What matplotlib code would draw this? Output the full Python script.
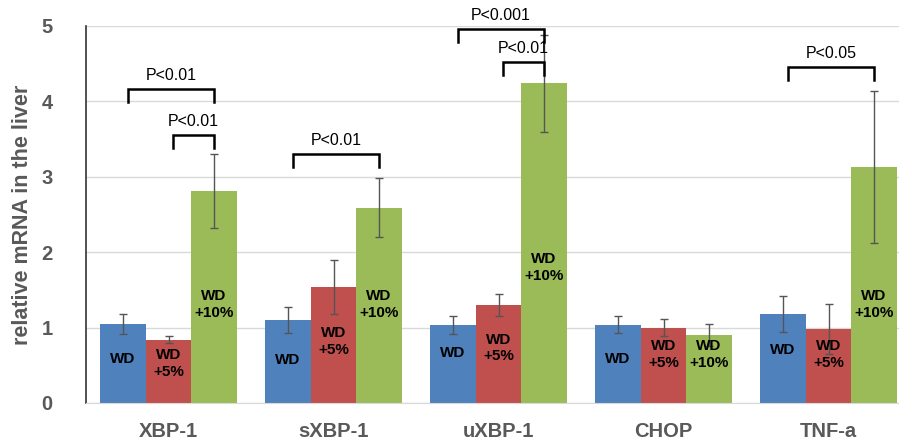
import numpy as np
import matplotlib
matplotlib.use("Agg")
import matplotlib.pyplot as plt

plt.rcParams["font.family"] = ["Liberation Sans", "DejaVu Sans"]

genes = ["XBP-1", "sXBP-1", "uXBP-1", "CHOP", "TNF-a"]
groups = ["WD", "WD\n+5%", "WD\n+10%"]

# mean values
wd = [1.05, 1.10, 1.04, 1.04, 1.18]
wd5 = [0.84, 1.54, 1.30, 1.00, 0.98]
wd10 = [2.81, 2.59, 4.24, 0.90, 3.13]
# error bars (half length)
wd_err = [0.13, 0.17, 0.12, 0.11, 0.24]
wd5_err = [0.05, 0.36, 0.15, 0.11, 0.33]
wd10_err = [0.49, 0.39, 0.64, 0.15, 1.01]

# vertical position of the text inside each bar
wd_lab = [0.58, 0.57, 0.66, 0.58, 0.70]
wd5_lab = [0.52, 0.82, 0.73, 0.64, 0.64]
wd10_lab = [1.31, 1.31, 1.80, 0.64, 1.31]

# significance brackets: gene index, left bar, right bar, height, label
brackets = [
    (0, 0, 2, 4.16, "P<0.01"),
    (0, 1, 2, 3.55, "P<0.01"),
    (1, 0, 2, 3.30, "P<0.01"),
    (2, 0, 2, 4.96, "P<0.001"),
    (2, 1, 2, 4.52, "P<0.01"),
    (4, 0, 2, 4.46, "P<0.05"),
]

colors = ["#4F81BD", "#C0504D", "#9BBB59"]
values = [wd, wd5, wd10]
errors = [wd_err, wd5_err, wd10_err]
labpos = [wd_lab, wd5_lab, wd10_lab]

fig = plt.figure(figsize=(8.99, 4.41), dpi=100)
ax = fig.add_axes([86 / 899, 38 / 441, 825 / 899, 377 / 441])

x = np.arange(len(genes))
w = 0.276
offsets = [-w, 0, w]

for k in range(3):
    ax.bar(x + offsets[k], values[k], w, color=colors[k], zorder=2)
    ax.errorbar(x + offsets[k], values[k], yerr=errors[k], fmt="none",
                ecolor="#555555", elinewidth=1, capsize=3, capthick=1, zorder=3)
    for i in range(len(genes)):
        ax.text(x[i] + offsets[k], labpos[k][i], groups[k], ha="center",
                va="center", fontsize=11, fontweight="bold", color="black",
                linespacing=1.25, zorder=4)

for g, a, b, h, lab in brackets:
    x1 = x[g] + offsets[a] + 0.03
    x2 = x[g] + offsets[b]
    ax.plot([x1, x1, x2, x2], [h - 0.17, h, h, h - 0.17], color="black",
            lw=1.8, solid_joinstyle="miter", zorder=5, clip_on=False)
    ax.text((x1 + x2) / 2, h + 0.08, lab, ha="center", va="bottom",
            fontsize=11.5, color="black")

ax.set_xlim(-0.5, 4.5)
ax.set_ylim(0, 5)
ax.set_yticks([0, 1, 2, 3, 4, 5])
ax.set_xticks(x)
ax.set_xticklabels(genes)
ax.yaxis.grid(True, color="#D9D9D9", lw=1, zorder=0)
ax.set_axisbelow(True)
ax.tick_params(axis="both", length=0, labelsize=14.5, colors="#595959")
ax.tick_params(axis="y", pad=24)
ax.tick_params(axis="x", pad=14)
for t in ax.get_xticklabels() + ax.get_yticklabels():
    t.set_fontweight("bold")
ax.set_ylabel("relative mRNA in the liver", fontsize=15.5, fontweight="bold",
              color="#595959", labelpad=6)
for s in ["top", "right"]:
    ax.spines[s].set_visible(False)
ax.spines["bottom"].set_color("#D9D9D9")
ax.spines["left"].set_color("#333333")
ax.spines["left"].set_linewidth(1.2)

fig.savefig("out.png", dpi=100)
